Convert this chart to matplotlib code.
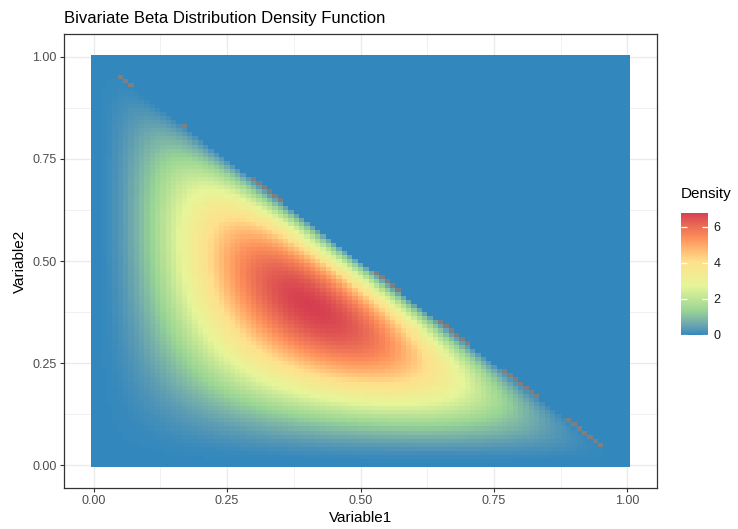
import math

import matplotlib
matplotlib.use("Agg")
import matplotlib.pyplot as plt
import numpy as np
from matplotlib.colors import ListedColormap, to_rgb

plt.rcParams["font.family"] = ["Liberation Sans", "DejaVu Sans"]

# Dirichlet (bivariate beta) shape parameters
alpha1 = 3.2
alpha2 = 3.1
alpha3 = 2.1

# grid of the heatmap (step 0.01, as in the reference tiles)
grid_step = 0.01
grid_n = 101

tick_values = [0.0, 0.25, 0.5, 0.75, 1.0]
tick_labels = ["0.00", "0.25", "0.50", "0.75", "1.00"]
legend_ticks = [0, 2, 4, 6]

# RColorBrewer Spectral (6), low -> high
spectral = ["#3288BD", "#99D594", "#E6F598", "#FEE08B", "#FC8D59", "#D53E4F"]


def dirichlet_density(x, y, a1, a2, a3):
    log_norm = math.lgamma(a1 + a2 + a3) - math.lgamma(a1) - math.lgamma(a2) - math.lgamma(a3)
    with np.errstate(all="ignore"):
        d = math.exp(log_norm) * x ** (a1 - 1) * y ** (a2 - 1) * (1 - x - y) ** (a3 - 1)
    return np.where(x + y <= 1, d, 0.0)


# --- Lab interpolation (what ggplot's gradient_n_pal does) ---
_M = np.array([[0.4124, 0.3576, 0.1805], [0.2126, 0.7152, 0.0722], [0.0193, 0.1192, 0.9505]])
_WHITE = np.array([0.95047, 1.0, 1.08883])


def _rgb_to_lab(rgb):
    rgb = np.asarray(rgb)
    lin = np.where(rgb <= 0.04045, rgb / 12.92, ((rgb + 0.055) / 1.055) ** 2.4)
    xyz = lin @ _M.T / _WHITE
    f = np.where(xyz > (6 / 29) ** 3, np.cbrt(xyz), xyz / (3 * (6 / 29) ** 2) + 4 / 29)
    return np.stack([116 * f[:, 1] - 16, 500 * (f[:, 0] - f[:, 1]), 200 * (f[:, 1] - f[:, 2])], axis=1)


def _lab_to_rgb(lab):
    fy = (lab[:, 0] + 16) / 116
    fx = fy + lab[:, 1] / 500
    fz = fy - lab[:, 2] / 200
    f = np.stack([fx, fy, fz], axis=1)
    xyz = np.where(f > 6 / 29, f ** 3, 3 * (6 / 29) ** 2 * (f - 4 / 29)) * _WHITE
    lin = xyz @ np.linalg.inv(_M).T
    lin = np.clip(lin, 0, 1)
    rgb = np.where(lin <= 0.0031308, lin * 12.92, 1.055 * lin ** (1 / 2.4) - 0.055)
    return np.clip(rgb, 0, 1)


def lab_cmap(colors, n=512):
    lab = _rgb_to_lab([to_rgb(c) for c in colors])
    knots = np.linspace(0, 1, len(colors))
    pos = np.linspace(0, 1, n)
    out = np.stack([np.interp(pos, knots, lab[:, i]) for i in range(3)], axis=1)
    return ListedColormap(_lab_to_rgb(out))


xs = np.arange(grid_n) * grid_step
ys = np.arange(grid_n) * grid_step
X, Y = np.meshgrid(xs, ys)
dens = dirichlet_density(X, Y, alpha1, alpha2, alpha3)
dens = np.ma.masked_invalid(dens)

cmap = lab_cmap(spectral)
cmap.set_bad("#7F7F7F")
vmin, vmax = float(dens.min()), float(dens.max())

W, H = 738, 529
fig = plt.figure(figsize=(W / 100, H / 100), dpi=100)
ax = fig.add_axes([64 / W, 1 - 488 / H, (657 - 64) / W, (488 - 34) / H])

half = grid_step / 2
edges_x = np.append(xs - half, xs[-1] + half)
edges_y = np.append(ys - half, ys[-1] + half)
mesh = ax.pcolormesh(edges_x, edges_y, dens, cmap=cmap, vmin=vmin, vmax=vmax, shading="flat")

span = edges_x[-1] - edges_x[0]
ax.set_xlim(edges_x[0] - 0.05 * span, edges_x[-1] + 0.05 * span)
ax.set_ylim(edges_y[0] - 0.05 * span, edges_y[-1] + 0.05 * span)

ax.set_xticks(tick_values)
ax.set_xticklabels(tick_labels)
ax.set_yticks(tick_values)
ax.set_yticklabels(tick_labels)
ax.set_xticks([0.125, 0.375, 0.625, 0.875], minor=True)
ax.set_yticks([0.125, 0.375, 0.625, 0.875], minor=True)
ax.set_axisbelow(True)
ax.grid(True, which="major", color="#EBEBEB", linewidth=1.0)
ax.grid(True, which="minor", color="#EBEBEB", linewidth=0.5)
ax.tick_params(which="major", length=2.9, width=0.8, color="#333333", labelcolor="#4D4D4D",
               labelsize=9, pad=2.2)
ax.tick_params(which="minor", length=0)
for sp in ax.spines.values():
    sp.set_color("#333333")
    sp.set_linewidth(0.9)

ax.set_xlabel("Variable1", fontsize=11, labelpad=3)
ax.set_ylabel("Variable2", fontsize=11, labelpad=4)

fig.text(64 / W, 1 - 22.7 / H, "Bivariate Beta Distribution Density Function",
         fontsize=12, ha="left", va="baseline")

# colour bar: value 0 sits at y=334.7 px, 18 px per unit
zero_px, px_per_unit = 334.7, 18.0
top_px = zero_px - px_per_unit * vmax
bot_px = zero_px - px_per_unit * vmin
cax = fig.add_axes([681 / W, 1 - bot_px / H, 27 / W, (bot_px - top_px) / H])
cbar = fig.colorbar(mesh, cax=cax, ticks=legend_ticks)
cbar.outline.set_visible(False)
cax.tick_params(direction="in", color="white", length=4, width=0.9, left=True, right=True,
                labelleft=False, labelright=True, labelsize=9, labelcolor="#1A1A1A", pad=4)
fig.text(681 / W, 1 - 198 / H, "Density", fontsize=11, ha="left", va="baseline")

fig.savefig("out.png", dpi=100)
